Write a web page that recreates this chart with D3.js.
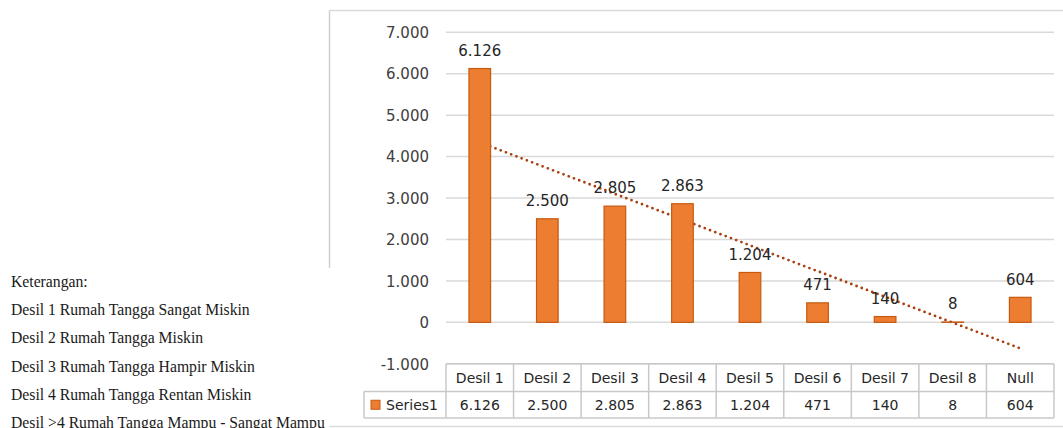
<!DOCTYPE html>
<html>
<head>
<meta charset="utf-8">
<script src="https://cdn.jsdelivr.net/npm/d3@7/dist/d3.min.js"></script>
<style>
  html, body { margin: 0; padding: 0; background: #fff; }
  svg { display: block; }
</style>
</head>
<body>
<svg id="chart" width="1063" height="428"></svg>
<script>
const categories = ["Desil 1", "Desil 2", "Desil 3", "Desil 4", "Desil 5", "Desil 6", "Desil 7", "Desil 8", "Null"];
const values = [6126, 2500, 2805, 2863, 1204, 471, 140, 8, 604];
const seriesName = "Series1";
const yTicks = [-1000, 0, 1000, 2000, 3000, 4000, 5000, 6000, 7000];
const notesTitle = "Keterangan:";
const notes = [
  "Desil 1 Rumah Tangga Sangat Miskin",
  "Desil 2 Rumah Tangga Miskin",
  "Desil 3 Rumah Tangga Hampir Miskin",
  "Desil 4 Rumah Tangga Rentan Miskin",
  "Desil >4 Rumah Tangga Mampu - Sangat Mampu"
];

const svg = d3.select("#chart");
const locale = d3.formatLocale({ decimal: ",", thousands: ".", grouping: [3], currency: ["", ""], minus: "-" });
const fmt = locale.format(",d");

const plotLeft = 446, plotRight = 1054;
const x = d3.scaleBand().domain(categories).range([plotLeft, plotRight]).paddingInner(0).paddingOuter(0);
const y = d3.scaleLinear().domain([-1000, 7000]).range([363.8, 32.3]);

const font = "DejaVu Sans, sans-serif";
const textColor = "#404040";
const gridColor = "#d9d9d9";

// chart frame
svg.append("line").attr("x1", 329.5).attr("x2", 1063).attr("y1", 10.5).attr("y2", 10.5)
  .attr("stroke", "#d9d9d9").attr("stroke-width", 1.5);
svg.append("line").attr("x1", 329.5).attr("x2", 329.5).attr("y1", 10.5).attr("y2", 268)
  .attr("stroke", "#d0d0d0").attr("stroke-width", 1.5);
svg.append("line").attr("x1", 329.5).attr("x2", 1063).attr("y1", 426.5).attr("y2", 426.5)
  .attr("stroke", "#d9d9d9").attr("stroke-width", 1.5);

// gridlines
svg.append("g").selectAll("line").data(yTicks).join("line")
  .attr("x1", plotLeft).attr("x2", plotRight)
  .attr("y1", d => y(d)).attr("y2", d => y(d))
  .attr("stroke", gridColor).attr("stroke-width", 1.5);

// y axis labels
const yAxis = d3.axisLeft(y).tickValues(yTicks).tickFormat(fmt).tickSize(0).tickPadding(0);
const gy = svg.append("g").attr("transform", "translate(429,0)").call(yAxis);
gy.select(".domain").remove();
gy.selectAll("text").attr("font-family", font).attr("font-size", 15).attr("fill", textColor).attr("dy", "0.35em");

// trendline (least squares on category index)
const n = values.length;
const xs = values.map((d, i) => i + 1);
const mx = d3.mean(xs), my = d3.mean(values);
const slope = d3.sum(xs.map((xi, i) => (xi - mx) * (values[i] - my))) / d3.sum(xs.map(xi => (xi - mx) ** 2));
const intercept = my - slope * mx;
const trendPts = [1, n].map(k => [x(categories[k - 1]) + x.bandwidth() / 2, y(intercept + slope * k)]);
svg.append("path")
  .attr("d", d3.line()(trendPts))
  .attr("stroke", "#A8400F").attr("stroke-width", 2.8).attr("fill", "none")
  .attr("stroke-dasharray", "0,5.6").attr("stroke-linecap", "round");

// bars
const barW = x.bandwidth() * 0.32;
svg.append("g").selectAll("rect").data(values).join("rect")
  .attr("x", (d, i) => x(categories[i]) + (x.bandwidth() - barW) / 2)
  .attr("width", barW)
  .attr("y", d => y(Math.max(0, d)))
  .attr("height", d => Math.abs(y(d) - y(0)))
  .attr("fill", "#ED7D31").attr("stroke", "#C55A11").attr("stroke-width", 1.2);

// data labels
svg.append("g").selectAll("text").data(values).join("text")
  .attr("x", (d, i) => x(categories[i]) + x.bandwidth() / 2)
  .attr("y", d => y(d) - 18)
  .attr("dy", "0.35em")
  .attr("text-anchor", "middle")
  .attr("font-family", font).attr("font-size", 15).attr("fill", "#262626")
  .text(d => fmt(d));

// data table
const tTop = y(-1000), tMid = 391.5, tBot = 418;
const tableColor = "#c8c8c8";
const tg = svg.append("g");
tg.append("line").attr("x1", plotLeft).attr("x2", plotRight).attr("y1", tTop).attr("y2", tTop).attr("stroke", tableColor).attr("stroke-width", 1.5);
tg.append("line").attr("x1", 364).attr("x2", plotRight).attr("y1", tMid).attr("y2", tMid).attr("stroke", tableColor).attr("stroke-width", 1.5);
tg.append("line").attr("x1", 364).attr("x2", plotRight).attr("y1", tBot).attr("y2", tBot).attr("stroke", tableColor).attr("stroke-width", 1.5);
const vx = categories.map(c => x(c)).concat([plotRight]);
tg.selectAll("line.v").data(vx).join("line").attr("class", "v")
  .attr("x1", d => d).attr("x2", d => d).attr("y1", tTop).attr("y2", tBot)
  .attr("stroke", tableColor).attr("stroke-width", 1.5);
tg.append("line").attr("x1", 364).attr("x2", 364).attr("y1", tMid).attr("y2", tBot).attr("stroke", tableColor).attr("stroke-width", 1.5);

tg.selectAll("text.h").data(categories).join("text").attr("class", "h")
  .attr("x", d => x(d) + x.bandwidth() / 2).attr("y", (tTop + tMid) / 2).attr("dy", "0.35em")
  .attr("text-anchor", "middle").attr("font-family", font).attr("font-size", 14).attr("fill", "#262626")
  .text(d => d);
tg.selectAll("text.v").data(values).join("text").attr("class", "v")
  .attr("x", (d, i) => x(categories[i]) + x.bandwidth() / 2).attr("y", (tMid + tBot) / 2).attr("dy", "0.35em")
  .attr("text-anchor", "middle").attr("font-family", font).attr("font-size", 14).attr("fill", "#262626")
  .text(d => fmt(d));
tg.append("rect").attr("x", 371).attr("y", (tMid + tBot) / 2 - 4.5).attr("width", 9).attr("height", 9)
  .attr("fill", "#ED7D31").attr("stroke", "#C55A11").attr("stroke-width", 1);
tg.append("text").attr("x", 386).attr("y", (tMid + tBot) / 2).attr("dy", "0.35em")
  .attr("font-family", font).attr("font-size", 14).attr("fill", "#262626").text(seriesName);

// notes
const ng = svg.append("g");
ng.selectAll("text").data([notesTitle].concat(notes)).join("text")
  .attr("x", 11).attr("y", (d, i) => 281.5 + i * 28.2).attr("dy", "0.35em")
  .attr("font-family", "Liberation Serif, Times New Roman, serif").attr("font-size", 15.7).attr("fill", "#1a1a1a")
  .text(d => d);
</script>
</body>
</html>
